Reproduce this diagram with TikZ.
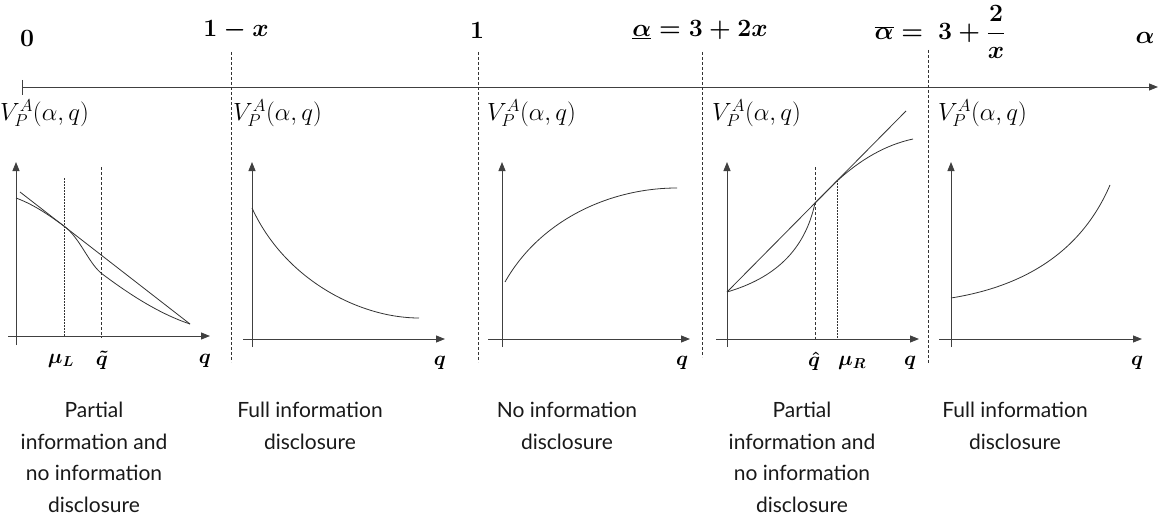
\documentclass[tikz,border=0pt]{standalone}
\usepackage{fontspec}
\setsansfont{Lato}
\usetikzlibrary{arrows.meta}
\begin{document}
\begin{tikzpicture}[x=1pt,y=-1pt,
  axis/.style={line width=0.9pt,draw=black!75,-{Triangle[length=9pt,width=7pt]}},
  curve/.style={line width=0.8pt,draw=black!80},
  sep/.style={line width=0.9pt,draw=black!80,dash pattern=on 3pt off 2pt},
  qdash/.style={line width=0.8pt,draw=black!80,dash pattern=on 3pt off 2pt},
  qdot/.style={line width=0.7pt,draw=black!80,dash pattern=on 1.5pt off 1.5pt},
  mlab/.style={inner sep=0pt,font=\fontsize{22}{26}\selectfont\boldmath},
  toplab/.style={inner sep=0pt,font=\fontsize{23}{27}\selectfont\boldmath},
  vlab/.style={inner sep=0pt,anchor=west,font=\fontsize{24}{28}\selectfont},
  caption/.style={inner sep=0pt,anchor=north,align=center,text=black!90,
    font=\sffamily\fontsize{21}{31.5}\selectfont}]
\useasboundingbox (0,0) rectangle (1160,519);
% main alpha axis
\coordinate (a0) at (22,87);
\coordinate (aend) at (1158,87);
\draw[axis] (a0) -- (aend);
\draw[line width=0.9pt,black!75] (22,80) -- (22,95);
% separators
\coordinate (s1t) at (231,52); \coordinate (s1b) at (231,362);
\coordinate (s2t) at (478,52); \coordinate (s2b) at (478,362);
\coordinate (s3t) at (702,52); \coordinate (s3b) at (702,357);
\coordinate (s4t) at (928,50); \coordinate (s4b) at (928,363);
\draw[sep] (s1t) -- (s1b);
\draw[sep] (s2t) -- (s2b);
\draw[sep] (s3t) -- (s3b);
\draw[sep] (s4t) -- (s4b);
% top labels
\node[toplab] (l0) at (27,38) {$0$};
\node[toplab] (l1x) at (236,30) {$1-x$};
\node[toplab] (l1) at (477,30) {$1$};
\node[toplab] (llow) at (700,30) {$\underline{\alpha}=3+2x$};
\node[toplab] (lhigh) at (940,32) {$\displaystyle\overline{\alpha}=\ 3+\frac{2}{x}$};
\node[toplab] (lalpha) at (1145,38) {$\alpha$};
% V labels
\node[vlab] (v1) at (0,113) {$V_P^A(\alpha,q)$};
\node[vlab] (v2) at (233,113) {$V_P^A(\alpha,q)$};
\node[vlab] (v3) at (487,113) {$V_P^A(\alpha,q)$};
\node[vlab] (v4) at (712,113) {$V_P^A(\alpha,q)$};
\node[vlab] (v5) at (938,113) {$V_P^A(\alpha,q)$};
% ---------- panel 1
\draw[axis] (16,345) -- (16,162);
\draw[axis] (8,336) -- (210,336);
\draw[qdot] (64,178) -- (64,336);
\draw[qdash] (101,167) -- (101,338);
\draw[curve] (20,192) -- (190,324);
\draw[curve] (16,198) .. controls (35,205) and (50,216) .. (64,226)
  .. controls (80,238) and (88,262) .. (101,273)
  .. controls (130,295) and (160,314) .. (190,324);
\node[mlab] (mul) at (61,361) {$\mu_L$};
\node[mlab] (qt) at (102,360) {$\tilde{q}$};
\node[mlab] (q1) at (205,361) {$q$};
% ---------- panel 2
\draw[axis] (252,347) -- (252,162);
\draw[axis] (243,339) -- (445,339);
\draw[curve] (252,208) .. controls (285,280) and (360,318) .. (419,318);
\node[mlab] (q2) at (440,363) {$q$};
% ---------- panel 3
\draw[axis] (502,347) -- (502,162);
\draw[axis] (488,339) -- (690,339);
\draw[curve] (505,282) .. controls (540,220) and (610,188) .. (677,188);
\node[mlab] (q3) at (682,363) {$q$};
% ---------- panel 4
\draw[axis] (727,347) -- (727,162);
\draw[axis] (716,339) -- (919,339);
\draw[qdash] (815,167) -- (815,339);
\draw[qdot] (837,180) -- (837,339);
\draw[curve] (727,292) -- (906,111);
\draw[curve] (727,292) .. controls (775,278) and (805,250) .. (815,203)
  -- (837,181) .. controls (860,160) and (885,145) .. (913,139);
\node[mlab] (qh) at (814,361) {$\hat{q}$};
\node[mlab] (mur) at (852,363) {$\mu_R$};
\node[mlab] (q4) at (910,363) {$q$};
% ---------- panel 5
\draw[axis] (951,347) -- (951,162);
\draw[axis] (939,339) -- (1142,339);
\draw[curve] (951,298) .. controls (1020,287) and (1080,255) .. (1110,185);
\node[mlab] (q5) at (1137,363) {$q$};
% captions
\node[caption] (c1) at (94,402) {Partial\\information and\\no information\\disclosure};
\node[caption] (c2) at (310,402) {Full information\\disclosure};
\node[caption] (c3) at (567,402) {No information\\disclosure};
\node[caption] (c4) at (802,402) {Partial\\information and\\no information\\disclosure};
\node[caption] (c5) at (1015,402) {Full information\\disclosure};
\end{tikzpicture}
\end{document}
